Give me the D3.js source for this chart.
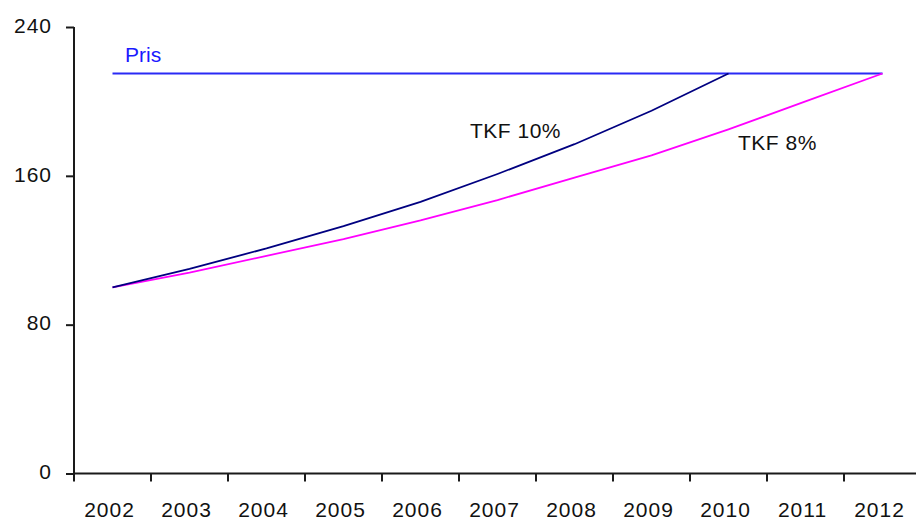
<!DOCTYPE html>
<html>
<head>
<meta charset="utf-8">
<script src="https://cdn.jsdelivr.net/npm/d3@7"></script>
<style>
  html, body { margin: 0; padding: 0; background: #fff; }
  svg { display: block; }
  text { font-family: "Liberation Sans", Arial, sans-serif; font-size: 21px; fill: #111; }
  .ticklabel { letter-spacing: 1px; }
</style>
</head>
<body>
<svg id="chart" width="916" height="520"></svg>
<script>
// Years on the category axis
const years = ["2002", "2003", "2004", "2005", "2006", "2007", "2008", "2009", "2010", "2011", "2012"];
// Target price, flat over the whole period
const pris = [215, 215, 215, 215, 215, 215, 215, 215, 215, 215, 215];
// Value growing at 10% a year until it reaches the price (2002–2010)
const tkf10 = [100, 110, 121, 133, 146, 161, 177, 195, 215];
// Value growing at 8% a year until it reaches the price (2002–2012)
const tkf8 = [100, 108, 117, 126, 136, 147, 159, 171, 185, 200, 215];
// Value-axis ticks
const yTicks = [0, 80, 160, 240];

const svg = d3.select("#chart");

const x = d3.scaleBand().domain(years).range([74, 921]).paddingInner(0).paddingOuter(0);
const y = d3.scaleLinear().domain([0, 240]).range([473.5, 27]);
const cx = d => x(d) + x.bandwidth() / 2;

// Value axis
const yAxis = d3.axisLeft(y).tickValues(yTicks).tickSize(8).tickPadding(14).tickSizeOuter(0);
const gy = svg.append("g").attr("transform", "translate(74,0)").call(yAxis);
gy.select(".domain").attr("stroke", "#1a1a1a").attr("stroke-width", 2)
  .attr("d", `M0,${y(240)}V${y(0) + 8}`);
gy.selectAll(".tick line").attr("stroke", "#1a1a1a").attr("stroke-width", 2);
gy.selectAll(".tick text").attr("class", "ticklabel").attr("dy", "0.25em")
  .style("font-size", "21px").attr("fill", "#111");

// Category axis: ticks sit on band boundaries
const boundaries = years.map(d => x(d));
const gx = svg.append("g");
gx.append("line")
  .attr("x1", 74).attr("x2", 921)
  .attr("y1", y(0)).attr("y2", y(0))
  .attr("stroke", "#1a1a1a").attr("stroke-width", 2);
gx.selectAll("line.tick").data(boundaries.slice(1)).join("line")
  .attr("class", "tick")
  .attr("x1", d => d).attr("x2", d => d)
  .attr("y1", y(0)).attr("y2", y(0) + 8)
  .attr("stroke", "#1a1a1a").attr("stroke-width", 2);
gx.selectAll("text").data(years).join("text")
  .attr("class", "ticklabel")
  .attr("x", d => cx(d) - 3)
  .attr("y", 517)
  .attr("text-anchor", "middle")
  .text(d => d);

// Series lines
const line = d3.line().x((d, i) => cx(years[i])).y(d => y(d));
const series = [
  { values: pris, color: "#2a2af5" },
  { values: tkf8, color: "#ff00ff" },
  { values: tkf10, color: "#000080" }
];
svg.selectAll("path.series").data(series).join("path")
  .attr("class", "series")
  .attr("d", d => line(d.values))
  .attr("fill", "none")
  .attr("stroke", d => d.color)
  .attr("stroke-width", 1.8);

// Series labels
svg.append("text").attr("x", 125).attr("y", 62).style("fill", "#1a1aff").text("Pris");
svg.append("text").attr("x", 470).attr("y", 138).style("letter-spacing", "0.5px").text("TKF 10%");
svg.append("text").attr("x", 738).attr("y", 150).style("letter-spacing", "0.5px").text("TKF 8%");
</script>
</body>
</html>
